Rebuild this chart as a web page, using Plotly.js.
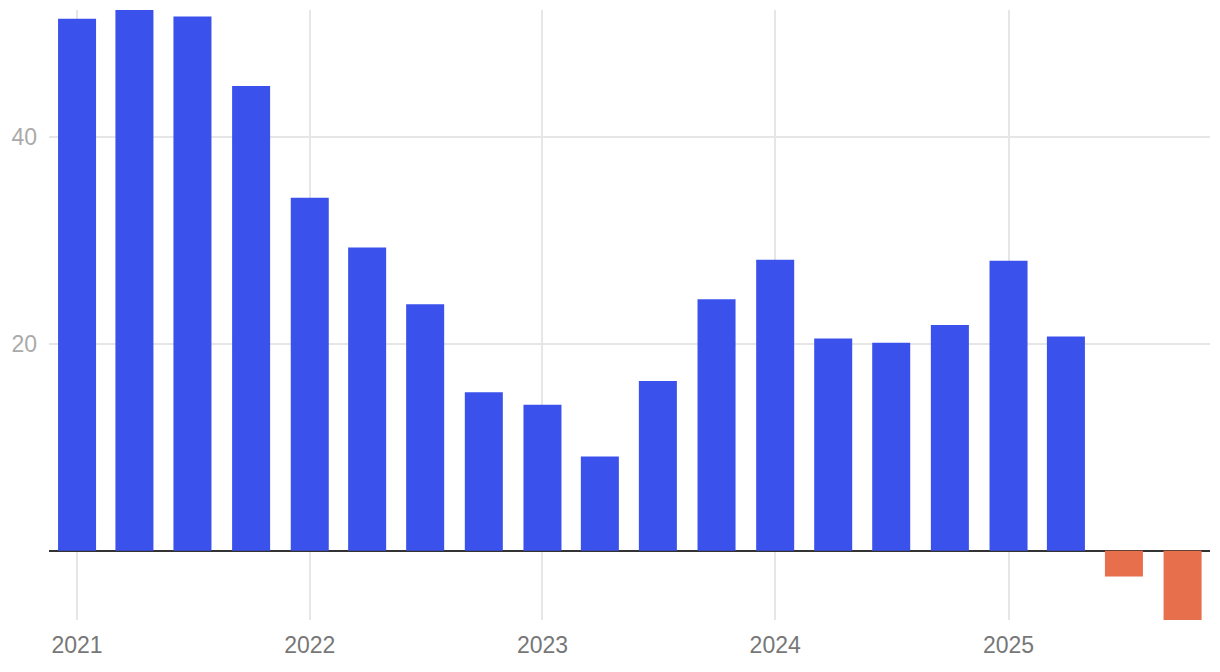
<!DOCTYPE html>
<html>
<head>
<meta charset="utf-8">
<script src="https://cdn.plot.ly/plotly-3.0.1.min.js"></script>
<style>
html,body{margin:0;padding:0;background:#fff;}
#chart{width:1220px;height:672px;}
</style>
</head>
<body>
<div id="chart"></div>
<script>
var quarters = ["2021-01-01","2021-04-01","2021-07-01","2021-10-01",
  "2022-01-01","2022-04-01","2022-07-01","2022-10-01",
  "2023-01-01","2023-04-01","2023-07-01","2023-10-01",
  "2024-01-01","2024-04-01","2024-07-01","2024-10-01",
  "2025-01-01","2025-04-01","2025-07-01","2025-10-01"];
var values = [51.4, 52.5, 51.6, 44.9, 34.1, 29.3, 23.8, 15.3, 14.1, 9.1,
  16.4, 24.3, 28.1, 20.5, 20.1, 21.8, 28.0, 20.7, -2.5, -6.7];
var positiveColor = "#3A52EB";
var negativeColor = "#E76F4C";
var colors = values.map(function(v){ return v >= 0 ? positiveColor : negativeColor; });

var trace = {
  type: "bar",
  x: quarters,
  y: values,
  marker: {color: colors, line: {width: 0}},
  width: 38 / 0.6372 * 86400000,
  hoverinfo: "x+y"
};

var layout = {
  width: 1220, height: 672,
  margin: {l: 49, r: 10, t: 10, b: 52},
  paper_bgcolor: "#fff", plot_bgcolor: "#fff",
  showlegend: false,
  font: {family: "Liberation Sans, Arial, sans-serif"},
  xaxis: {
    type: "date",
    range: ["2020-11-18", "2025-11-13"],
    tickvals: ["2021-01-01","2022-01-01","2023-01-01","2024-01-01","2025-01-01"],
    ticktext: ["2021","2022","2023","2024","2025"],
    showgrid: true, gridcolor: "#e6e6e6", gridwidth: 2,
    zeroline: false, showline: false, ticks: "",
    tickfont: {size: 23, color: "#777"},
    ticklabelstandoff: 9
  },
  yaxis: {
    range: [-6.7, 52.24],
    tickvals: [20, 40],
    showgrid: true, gridcolor: "#e6e6e6", gridwidth: 2,
    zeroline: true, zerolinecolor: "#333", zerolinewidth: 2,
    showline: false, ticks: "",
    tickfont: {size: 23, color: "#aaa"},
    ticklabelstandoff: 11
  }
};

Plotly.newPlot("chart", [trace], layout, {displayModeBar: false, staticPlot: true});
</script>
</body>
</html>
